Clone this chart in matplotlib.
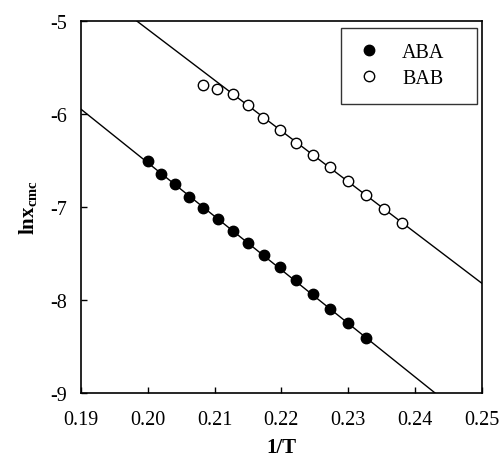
import numpy as np
import matplotlib
matplotlib.use("Agg")
import matplotlib.pyplot as plt

plt.rcParams['font.family'] = ['Liberation Serif', 'DejaVu Serif']
plt.rcParams['mathtext.fontset'] = 'custom'
plt.rcParams['mathtext.rm'] = 'Liberation Serif'
plt.rcParams['mathtext.bf'] = 'Liberation Serif:bold'
plt.rcParams['axes.unicode_minus'] = False

# data
aba_x = [0.2000, 0.2020, 0.2041, 0.2062, 0.2083, 0.2105, 0.2127, 0.2150,
         0.2174, 0.2198, 0.2222, 0.2247, 0.2273, 0.2299, 0.2326]
aba_y = [-6.51, -6.65, -6.75, -6.89, -7.01, -7.13, -7.26, -7.39,
         -7.52, -7.65, -7.79, -7.94, -8.10, -8.25, -8.41]

bab_x = [0.2083, 0.2104, 0.2127, 0.2150, 0.2173, 0.2198, 0.2222,
         0.2247, 0.2273, 0.2299, 0.2326, 0.2353, 0.2381]
bab_y = [-5.69, -5.73, -5.78, -5.90, -6.04, -6.17, -6.31,
         -6.44, -6.57, -6.72, -6.87, -7.02, -7.17]

xticks = [0.19, 0.20, 0.21, 0.22, 0.23, 0.24, 0.25]
yticks = [-5, -6, -7, -8, -9]

fig = plt.figure(figsize=(5.02, 4.6), dpi=100)
ax = fig.add_axes([0.161, 0.1435, 0.799, 0.8085])

# linear fits (BAB fit uses the straight part only)
xx = np.array([0.18, 0.26])
p_aba = np.polyfit(aba_x, aba_y, 1)
p_bab = np.polyfit(bab_x[3:], bab_y[3:], 1)
ax.plot(xx, np.polyval(p_aba, xx), color='black', linewidth=1)
ax.plot(xx, np.polyval(p_bab, xx), color='black', linewidth=1)

ax.plot(aba_x, aba_y, 'o', color='black', markersize=7.5, label='ABA', zorder=3)
ax.plot(bab_x, bab_y, 'o', markerfacecolor='white', markeredgecolor='black',
        markeredgewidth=1, markersize=7.5, label='BAB', zorder=3)

ax.set_xlim(0.19, 0.25)
ax.set_ylim(-9, -5)
ax.set_xticks(xticks)
ax.set_xticklabels(['%.2f' % t for t in xticks])
ax.set_yticks(yticks)
ax.tick_params(direction='in', length=4, width=1, labelsize=14.5, top=False, right=False)
ax.tick_params(axis='y', pad=10)
ax.tick_params(axis='x', pad=12)
for s in ax.spines.values():
    s.set_linewidth(1.2)

ax.set_xlabel('1/T', fontsize=15, fontweight='bold', labelpad=6)
ax.set_ylabel(r'$\mathbf{lnx_{cmc}}$', fontsize=15, labelpad=8)

leg = ax.legend(loc='upper right', fontsize=14.5, frameon=True, fancybox=False,
                borderpad=0.75, handletextpad=1.0, labelspacing=0.35,
                bbox_to_anchor=(0.648, 0.70, 0.339, 0.281), mode='expand',
                borderaxespad=0, handlelength=1.3)
leg.get_frame().set_edgecolor('black')
leg.get_frame().set_linewidth(1)

plt.savefig('out.png', dpi=100)
